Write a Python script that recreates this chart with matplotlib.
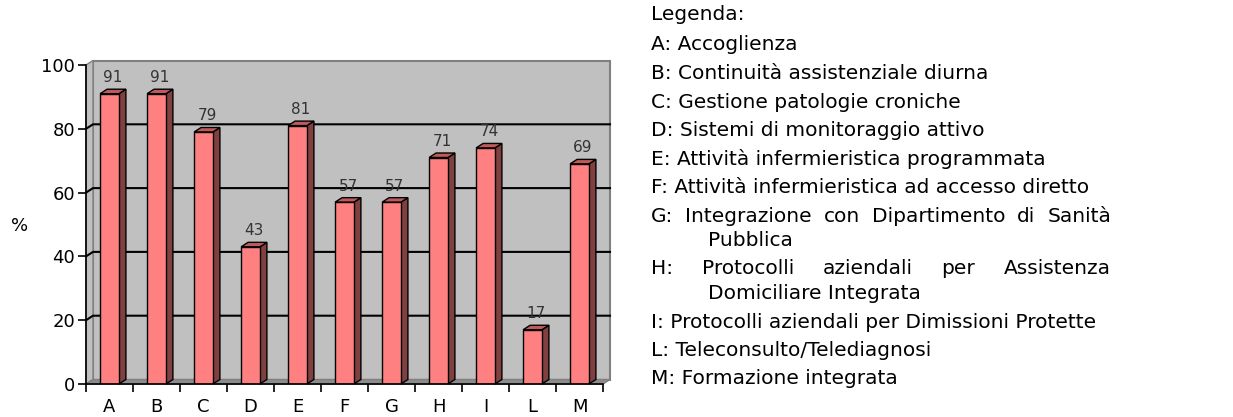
"""Excel-style 3D column chart: percentuale per area, con legenda testuale a destra."""

import matplotlib
matplotlib.use("Agg")
import matplotlib.pyplot as plt
from matplotlib.patches import Polygon, Rectangle

W, H = 1233, 417

CATEGORIES = ["A", "B", "C", "D", "E", "F", "G", "H", "I", "L", "M"]
VALUES = [91, 91, 79, 43, 81, 57, 57, 71, 74, 17, 69]
Y_TICKS = [0, 20, 40, 60, 80, 100]

LEGEND_TITLE = "Legenda:"
LEGEND_ITEMS = [
    ("A:", "Accoglienza", None),
    ("B:", "Continuità assistenziale diurna", None),
    ("C:", "Gestione patologie croniche", None),
    ("D:", "Sistemi di monitoraggio attivo", None),
    ("E:", "Attività infermieristica programmata", None),
    ("F:", "Attività infermieristica ad accesso diretto", None),
    ("G:", "Integrazione con Dipartimento di Sanità", "Pubblica"),
    ("H:", "Protocolli aziendali per Assistenza", "Domiciliare Integrata"),
    ("I:", "Protocolli aziendali per Dimissioni Protette", None),
    ("L:", "Teleconsulto/Telediagnosi", None),
    ("M:", "Formazione integrata", None),
]
JUSTIFY = {"G:", "H:"}

FRONT = "#ff8080"
SIDE = "#804040"
TOP = "#c05a5a"
WALL = "#c0c0c0"
FLOOR = "#8c8c8c"
EDGE = "#808080"

plt.rcParams.update({"font.family": ["DejaVu Sans"], "font.size": 12})


def fx(x):
    return x / W


def fy(y):
    return 1 - y / H


def main():
    fig = plt.figure(figsize=(W / 100, H / 100), dpi=100)

    # front plane of the plot area, in pixels
    left, right, y0, y100 = 86, 603, 384, 65
    ax = fig.add_axes([fx(left), fy(y0), (right - left) / W, (y0 - y100) / H])
    n = len(CATEGORIES)
    ax.set_xlim(-0.5, n - 0.5)
    ax.set_ylim(0, 100)
    ax.set_facecolor("none")

    # depth of the 3D effect, px -> data units
    dx = 7 / ((right - left) / n)
    dy = 4.5 / ((y0 - y100) / 100)
    x_lo, x_hi = -0.5, n - 0.5

    ax.add_patch(Rectangle((x_lo + dx, dy), n, 100, facecolor=WALL, edgecolor=EDGE,
                           lw=1.5, clip_on=False, zorder=0))
    ax.add_patch(Polygon([(x_lo, 0), (x_lo + dx, dy), (x_lo + dx, 100 + dy), (x_lo, 100)],
                         facecolor=WALL, edgecolor=EDGE, lw=1, clip_on=False, zorder=0))
    ax.add_patch(Polygon([(x_lo, 0), (x_hi, 0), (x_hi + dx, dy), (x_lo + dx, dy)],
                         facecolor=FLOOR, edgecolor=EDGE, lw=1, clip_on=False, zorder=0.5))

    for t in Y_TICKS[1:-1]:
        ax.plot([x_lo, x_lo + dx, x_hi + dx], [t, t + dy, t + dy], color="black",
                lw=1.5, clip_on=False, zorder=1)

    w = 0.4
    xs = list(range(n))
    for x, v in zip(xs, VALUES):
        ax.add_patch(Polygon([(x + w / 2, 0), (x + w / 2 + dx, dy), (x + w / 2 + dx, v + dy),
                              (x + w / 2, v)], facecolor=SIDE, edgecolor="black", lw=1,
                             clip_on=False, zorder=2))
        ax.add_patch(Polygon([(x - w / 2, v), (x + w / 2, v), (x + w / 2 + dx, v + dy),
                              (x - w / 2 + dx, v + dy)], facecolor=TOP, edgecolor="black", lw=1,
                             clip_on=False, zorder=2))
    ax.bar(xs, VALUES, width=w, color=FRONT, edgecolor="black", lw=1, zorder=3)

    for x, v in zip(xs, VALUES):
        ax.annotate(f"{v}", (x + dx / 2, v + dy), xytext=(0, 3), textcoords="offset points",
                    ha="center", va="bottom", fontsize=11, color="#333333",
                    annotation_clip=False)

    for s in ("top", "right"):
        ax.spines[s].set_visible(False)
    for s in ("left", "bottom"):
        ax.spines[s].set_linewidth(1.2)
        ax.spines[s].set_zorder(4)
    ax.set_yticks(Y_TICKS)
    ax.set_xticks(xs)
    ax.set_xticklabels(CATEGORIES)
    ax.set_xticks([i + 0.5 for i in range(-1, n)], minor=True)
    ax.tick_params(axis="x", which="major", length=0, pad=10, labelsize=13)
    ax.tick_params(axis="x", which="minor", length=6, width=1.2, direction="out")
    ax.tick_params(axis="y", length=6, width=1.2, direction="out", pad=2, labelsize=13)
    fig.text(fx(20), fy(226), "%", fontsize=13, ha="center", va="center")

    # legend text on the right
    lx, indent, rx = 651, 708, 1111
    fs = 14.5
    fig.text(fx(lx), fy(15), LEGEND_TITLE, fontsize=fs, va="center")
    fig.canvas.draw()
    renderer = fig.canvas.get_renderer()

    y = 45
    for key, text, cont in LEGEND_ITEMS:
        if key in JUSTIFY:
            words = [key] + text.split()
            objs = [fig.text(fx(lx), fy(y), wd, fontsize=fs, va="center") for wd in words]
            widths = [o.get_window_extent(renderer).width for o in objs]
            gap = (rx - lx - sum(widths)) / (len(words) - 1)
            pos = lx
            for o, wdt in zip(objs, widths):
                o.set_x(fx(pos))
                pos += wdt + gap
        else:
            fig.text(fx(lx), fy(y), f"{key} {text}", fontsize=fs, va="center")
        if cont:
            y += 24.5
            fig.text(fx(indent), fy(y), cont, fontsize=fs, va="center")
        y += 28.5

    fig.savefig("out.png", dpi=100)


if __name__ == "__main__":
    main()
